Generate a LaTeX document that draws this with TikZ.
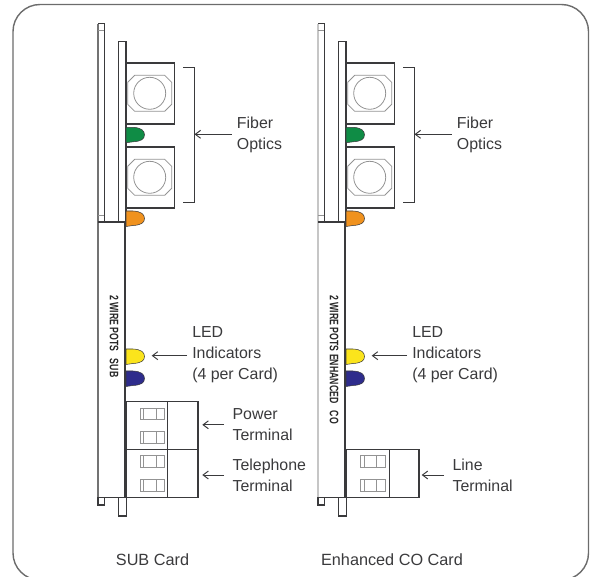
\documentclass[tikz,border=0pt]{standalone}
\usepackage{fontspec}
\usepackage{graphicx}
\setmainfont{Liberation Sans}
\usetikzlibrary{arrows.meta, positioning}

\definecolor{linecol}{HTML}{3A3A3C}
\definecolor{ledgreen}{HTML}{0F8C45}
\definecolor{ledorange}{HTML}{F0921E}
\definecolor{ledyellow}{HTML}{FBE41C}
\definecolor{ledblue}{HTML}{2E2C8C}

\begin{document}
\begin{tikzpicture}[
	x=0.02cm,
	y=-0.02cm,
	outline/.style={draw=linecol, line width=0.8pt},
	thinline/.style={draw=gray!85, line width=0.45pt},
	led/.style={draw=linecol, line width=0.3pt},
	labeltext/.style={anchor=west, align=left, inner ysep=0pt, inner xsep=2.8pt, text=linecol, font=\fontsize{9.05}{11.9}\selectfont},
	cardtext/.style={text=linecol, font=\fontsize{9.25}{11.9}\selectfont},
	boardtext/.style={rotate=-90, anchor=west, inner sep=0pt, text=black!85, font=\fontsize{7}{8}\selectfont\bfseries},
	arrow/.style={-{Straight Barb[length=3pt,width=4.5pt]}, draw=linecol, line width=0.55pt}
	]
	
	% Page and frame
	\useasboundingbox (0,0) rectangle (595,577);
	\clip (0,0) rectangle (595,577);
	\draw[draw=gray!85!black, line width=0.8pt, rounded corners=0.54cm] (13,4.5) rectangle (588.5,580);
	
	% Parts that both cards share
	\foreach \cardx/\edgecol in {0/gray!90!black, 220/gray!45} {
		\begin{scope}[shift={(\cardx,0)}]
			% Back panel and front panel
			\draw[outline] (104.3,222) -- (104.3,23.7) -- (98,23.7);
			\draw[draw=\edgecol, line width=0.8pt] (98,23.7) -- (98,222);
			\draw[thinline] (98,30) -- (104.3,30) (98,215.7) -- (104.3,215.7);
			\draw[outline] (118.7,222) rectangle (126,41.7);
			
			% Fiber sockets
			\foreach \boxy in {63.3, 147.3} {
				\draw[outline, line width=1pt] (126,\boxy) -- (174.5,\boxy) -- (174.5,\boxy+60.5) -- (126,\boxy+60.5);
				\draw[thinline] (134.7,\boxy+12) -- (164.7,\boxy+12) -- (171.7,\boxy+19) -- (171.7,\boxy+41) -- (164.7,\boxy+48) -- (134.7,\boxy+48) -- (127.7,\boxy+41) -- (127.7,\boxy+19) -- cycle;
				\draw[thinline] (149.7,\boxy+30) circle (0.32cm);
			}
			
			% Bracket
			\draw[draw=linecol, line width=0.55pt] (183.3,67.3) -- (194.5,67.3) -- (194.5,202.7) -- (183.3,202.7);
			\coordinate (bracket\cardx) at (194.5,134.3);
			
			% LEDs
			\foreach \ledy/\ledcol in {127.3/ledgreen, 211/ledorange, 349/ledyellow, 371/ledblue} {
				\draw[led, fill=\ledcol] (126,\ledy) -- (133,\ledy) .. controls (141,\ledy+0.5) and (144.5,\ledy+3) .. (144.5,\ledy+7.5) .. controls (144.5,\ledy+12) and (141,\ledy+14) .. (133,\ledy+14.5) -- (126,\ledy+15.5) -- cycle;
			}
			
			% Main board
			\draw[draw=\edgecol, line width=0.8pt] (98,222) -- (98,497.3);
			\draw[outline] (98,222) -- (125,222);
			\draw[outline] (98,497.3) -- (125,497.3);
			\draw[draw=linecol, line width=1.6pt] (125,222) -- (125,497.3);
			
			% Tabs under the board
			\draw[outline] (98,497.3) -- (98,505) -- (104.3,505) -- (104.3,497.3);
			\draw[outline] (118.7,497.3) -- (118.7,516) -- (126.5,516) -- (126.5,497.3);
			
			% Labels
			\node[labeltext] (fiber\cardx) at (231.7,135) {Fiber\\Optics};
			\draw[arrow] (fiber\cardx.west |- bracket\cardx) -- (bracket\cardx);
			
			\node[labeltext] (led\cardx) at (187,354.5) {LED\\Indicators\\(4 per Card)};
			\coordinate (ledtip\cardx) at (151.7,355.7);
			\draw[arrow] (led\cardx.west |- ledtip\cardx) -- (ledtip\cardx);
		\end{scope}
	}
	
	% Terminals on the SUB card
	\draw[outline, line width=0.7pt] (126,401.7) rectangle (198,497.5);
	\draw[outline, line width=0.7pt] (126,449.7) -- (198,449.7);
	\draw[draw=linecol, line width=0.45pt] (167.7,401.7) -- (167.7,497.5);
	\foreach \switchy in {408, 431.7, 455.3, 479.7} {
		\draw[thinline] (140.3,\switchy) rectangle (164.7,\switchy+11.8);
		\draw[thinline] (143.7,\switchy) rectangle (156,\switchy+11.8);
	}
	
	% Terminal on the CO card
	\draw[outline, line width=0.7pt] (346,449.7) rectangle (419,497.5);
	\draw[draw=linecol, line width=0.45pt] (389,449.7) -- (389,497.5);
	\foreach \switchy in {455.3, 479.7} {
		\draw[thinline] (360.3,\switchy) rectangle (385.7,\switchy+11.8);
		\draw[thinline] (364,\switchy) rectangle (376.5,\switchy+11.8);
	}
	
	% Board texts
	\node[boardtext] (subname) at (114,295) {\scalebox{0.71}[1]{2 WIRE POTS\ \ \ SUB}};
	\node[boardtext] (coname) at (334,295) {\scalebox{0.71}[1]{2 WIRE POTS ENHANCED\ \ \ CO}};
	
	% Terminal labels
	\node[labeltext, inner xsep=4.7pt] (power) at (224,424.8) {Power\\Terminal};
	\node[labeltext, inner xsep=4.7pt] (phone) at (224,475) {Telephone\\Terminal};
	\node[labeltext, inner xsep=4.7pt] (line) at (444,475) {Line\\Terminal};
	\coordinate (powertip) at (202.3,424.8);
	\coordinate (phonetip) at (202.3,475);
	\coordinate (linetip) at (421.7,475);
	\draw[arrow] (power.west) -- (powertip);
	\draw[arrow] (phone.west) -- (phonetip);
	\draw[arrow] (line.west) -- (linetip);
	
	% Card names
	\node[cardtext] (subcard) at (152.5,559.5) {SUB Card};
	\node[cardtext] (cocard) at (392,559.5) {Enhanced CO Card};
	
\end{tikzpicture}
\end{document}
